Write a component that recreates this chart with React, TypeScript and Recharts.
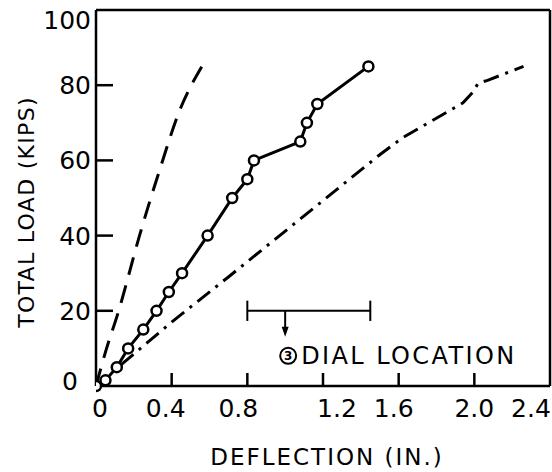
import React from "react";
import { Line, LineChart, ReferenceDot, ReferenceLine, XAxis, YAxis } from "recharts";

// measured load-deflection curves
const testDefl = [0, 0.05, 0.11, 0.17, 0.25, 0.32, 0.385, 0.455, 0.59, 0.72, 0.8, 0.835, 1.08, 1.115, 1.17, 1.44];
const testLoad = [0, 1.5, 5, 10, 15, 20, 25, 30, 40, 50, 55, 60, 65, 70, 75, 85];

const dashDefl = [0, 0.05, 0.12, 0.23, 0.34, 0.44, 0.56];
const dashLoad = [0, 9, 20, 40, 58, 73, 85];

const dotDashDefl = [0, 0.4, 0.7, 1.5, 1.62, 1.94, 1.99, 2.02, 2.07, 2.26];
const dotDashLoad = [0, 17, 29, 61.5, 66, 75.3, 78, 80.5, 81.3, 85];

const xTicks = [0, 0.4, 0.8, 1.2, 1.6, 2.0, 2.4];
const xTickLabels = ["0", "0.4", "0.8", "1.2", "1.6", "2.0", "2.4"];
const yTicks = [0, 20, 40, 60, 80, 100];

// dial location bracket
const dialRange = [0.8, 1.45];
const dialCenter = 1.0;
const dialLoad = 20;

const font = "'DejaVu Sans', sans-serif";

const toPoints = (xs: number[], ys: number[]) => xs.map((x, i) => ({ x, y: ys[i] }));

const testData = toPoints(testDefl, testLoad);
const dashData = toPoints(dashDefl, dashLoad);
const dotDashData = toPoints(dotDashDefl, dotDashLoad);

const xLabelShift = [4, -6, -9, 14, -5, 0, -19];

function XTick(props: any) {
  const { x, y, payload, index } = props;
  const v = payload.value;
  const inner = v > 0 && v < 2.4;
  return (
    <g>
      {inner ? <line x1={x} x2={x} y1={y} y2={y - 13} stroke="#000" strokeWidth={2.5} /> : null}
      <text x={x + (xLabelShift[index] ?? 0)} y={y + 31} textAnchor="middle" fontFamily={font} fontSize={25} fill="#000">
        {xTickLabels[index]}
      </text>
    </g>
  );
}

function YTick(props: any) {
  const { x, y, payload } = props;
  const v = payload.value;
  const dy = v === 100 ? 10 : v === 0 ? -5 : 0;
  const dx = v === 0 ? -13 : 0;
  return (
    <g>
      {v > 0 && v < 100 ? <line x1={x} x2={x + 17} y1={y} y2={y} stroke="#000" strokeWidth={2.5} /> : null}
      <text x={x - 5 + dx} y={y + dy} dy="0.36em" textAnchor="end" fontFamily={font} fontSize={25} fill="#000">
        {v}
      </text>
    </g>
  );
}

function DialMark(props: any) {
  const { cx, cy } = props;
  if (cx == null || cy == null) return null;
  return (
    <g>
      <line x1={cx} x2={cx} y1={cy} y2={cy + 20} stroke="#000" strokeWidth={2} />
      <path d={`M${cx - 3.5},${cy + 16} L${cx + 3.5},${cy + 16} L${cx},${cy + 26} Z`} fill="#000" />
      <circle cx={cx + 3} cy={cy + 45} r={8} fill="#fff" stroke="#000" strokeWidth={2} />
      <text x={cx + 3} y={cy + 45} dy="0.36em" textAnchor="middle" fontFamily={font} fontSize={12} fontWeight="bold" fill="#000">
        3
      </text>
      <text x={cx + 16} y={cy + 53} fontFamily={font} fontSize={24} letterSpacing={2.4} fill="#000">
        DIAL LOCATION
      </text>
    </g>
  );
}

export default function App() {
  return (
    <div style={{ position: "absolute", left: 0, top: 0, background: "#fff" }}>
      <LineChart width={552} height={472} margin={{ top: 10, right: 2, bottom: 0, left: 0 }}>
        <XAxis
          type="number"
          dataKey="x"
          domain={[0, 2.4]}
          ticks={xTicks}
          interval={0}
          allowDataOverflow
          height={86}
          tickSize={0}
          tickMargin={0}
          tickLine={false}
          axisLine={{ stroke: "#000", strokeWidth: 2.5 }}
          tick={<XTick />}
          label={(p: any) => {
            const vb = p.viewBox;
            return (
              <text x={vb.x + vb.width / 2 + 4} y={vb.y + 79} textAnchor="middle" fontFamily={font} fontSize={23} letterSpacing={2} fill="#000">
                DEFLECTION (IN.)
              </text>
            );
          }}
        />
        <YAxis
          type="number"
          domain={[0, 100]}
          ticks={yTicks}
          interval={0}
          width={96}
          tickSize={0}
          tickMargin={0}
          tickLine={false}
          axisLine={{ stroke: "#000", strokeWidth: 2.5 }}
          tick={<YTick />}
          label={(p: any) => {
            const vb = p.viewBox;
            const cx = 26;
            const cy = vb.y + vb.height / 2 + 14;
            return (
              <text x={cx} y={cy} dy="0.36em" transform={`rotate(-90 ${cx} ${cy})`} textAnchor="middle" fontFamily={font} fontSize={22} letterSpacing={1.3} fill="#000">
                TOTAL LOAD (KIPS)
              </text>
            );
          }}
        />
        <ReferenceLine y={100} stroke="#000" strokeWidth={2.5} />
        <ReferenceLine x={2.4} stroke="#000" strokeWidth={2.5} />

        <ReferenceLine segment={[{ x: dialRange[0], y: dialLoad }, { x: dialRange[1], y: dialLoad }]} stroke="#000" strokeWidth={2} />
        <ReferenceLine segment={[{ x: dialRange[0], y: dialLoad - 2.7 }, { x: dialRange[0], y: dialLoad + 2.7 }]} stroke="#000" strokeWidth={2} />
        <ReferenceLine segment={[{ x: dialRange[1], y: dialLoad - 2.7 }, { x: dialRange[1], y: dialLoad + 2.7 }]} stroke="#000" strokeWidth={2} />
        <ReferenceDot x={dialCenter} y={dialLoad} shape={<DialMark />} />

        <Line data={dashData} dataKey="y" type="monotone" stroke="#000" strokeWidth={3} strokeDasharray="18 11" dot={false} isAnimationActive={false} />
        <Line data={dotDashData} dataKey="y" type="linear" stroke="#000" strokeWidth={3} strokeDasharray="16 7 3 7" dot={false} isAnimationActive={false} />
        <Line
          data={testData}
          dataKey="y"
          type="linear"
          stroke="#000"
          strokeWidth={3}
          dot={{ r: 5, fill: "#fff", stroke: "#000", strokeWidth: 2.5 }}
          isAnimationActive={false}
        />
      </LineChart>
    </div>
  );
}
